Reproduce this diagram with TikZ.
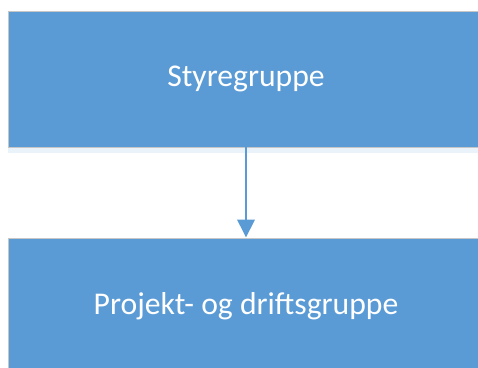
\documentclass[tikz,border=0pt]{standalone}
\usepackage{fontspec}
\setmainfont{Carlito}
\usepackage{tikz}
\usetikzlibrary{arrows.meta, positioning, shadows}

\definecolor{officeblue}{HTML}{5B9BD5}

\begin{document}
\begin{tikzpicture}[
    x=0.025cm, y=-0.025cm,
    group/.style={rectangle, draw=gray!45, line width=0.6pt, fill=officeblue, minimum width=11.9cm, minimum height=#1, font=\fontsize{22.5}{27}\selectfont, text=white, inner sep=0pt,
        drop shadow={shadow xshift=0pt, shadow yshift=-4pt, opacity=0.12, fill=officeblue}},
    group/.default={3.4cm},
    arrow/.style={-{Triangle[length=0.45cm, width=0.43cm]}, line width=2pt, draw=officeblue}
]
\useasboundingbox (0,0) rectangle (478,367);

% === GRUPPER ===
\node[group] (styre) at (246, 79) {Styregruppe};
\node[group=3.4cm] (drift) at (246, 306) {Projekt- og driftsgruppe};

% === PIL ===
\draw[arrow] (styre.south) -- (drift.north);

\end{tikzpicture}
\end{document}
